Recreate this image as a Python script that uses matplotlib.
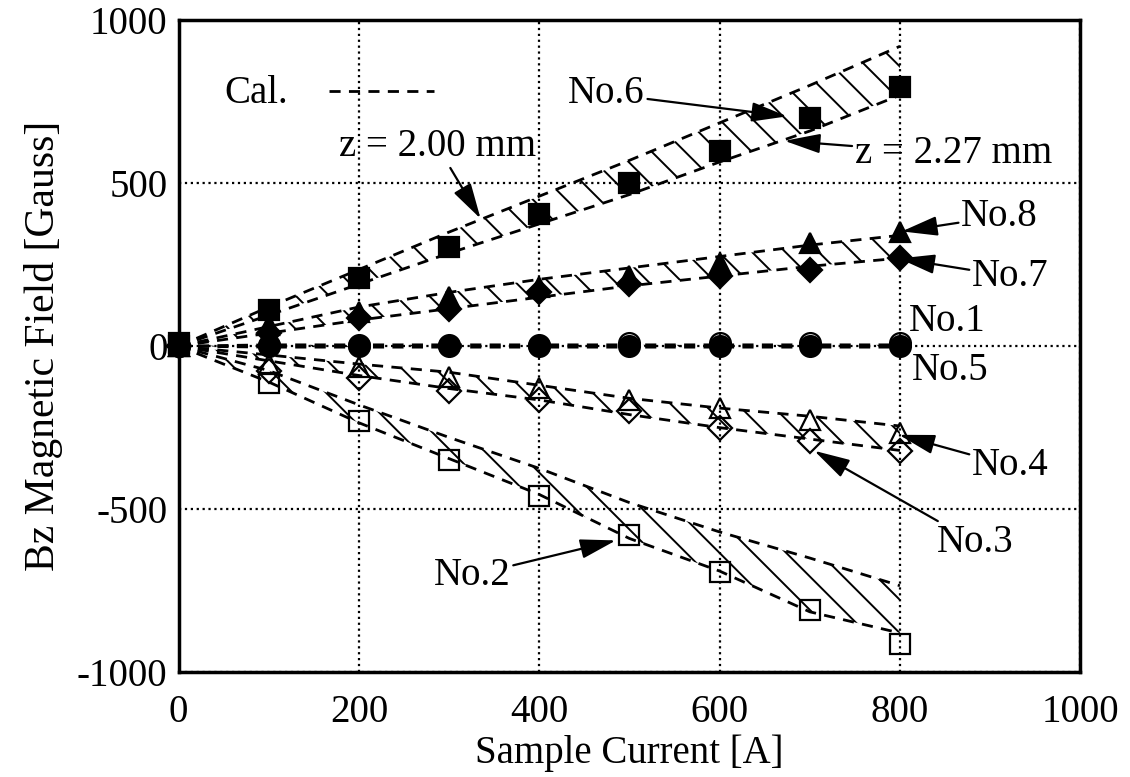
import numpy as np
import matplotlib
matplotlib.use("Agg")
import matplotlib.pyplot as plt

plt.rcParams['font.family'] = ['Liberation Serif', 'DejaVu Serif']
plt.rcParams['hatch.linewidth'] = 1.4
plt.rcParams['axes.unicode_minus'] = False

# --- Data ---
current = [0, 100, 200, 300, 400, 500, 600, 700, 800]

# measured
no6 = [10, 110, 210, 305, 405, 500, 600, 700, 795]
no8 = [0, 65, 105, 150, 180, 215, 255, 315, 350]
no7 = [0, 40, 85, 115, 165, 190, 215, 235, 270]
no1 = [0, 5, 5, 5, 5, 10, 10, 10, 10]
no5 = [0, 0, 0, 0, 0, 0, 0, 0, 0]
no4 = [0, -55, -65, -95, -128, -165, -190, -226, -266]
no3 = [0, -75, -98, -138, -165, -199, -251, -291, -321]
no2 = [0, -113, -230, -348, -459, -578, -694, -810, -914]

# calculated bands (z = 2.00 mm / z = 2.27 mm)
cal6_a = [0, 120, 235, 350, 460, 570, 685, 800, 920]
cal6_b = [0, 95, 190, 285, 375, 465, 565, 660, 770]
cal78_a = [0, 60, 120, 165, 205, 240, 275, 310, 340]
cal78_b = [0, 40, 80, 115, 150, 185, 215, 245, 270]
cal15_a = [0, 4, 4, 4, 4, 4, 4, 4, 4]
cal15_b = [0, -3, -3, -3, -3, -3, -3, -3, -3]
cal34_a = [0, -27, -55, -80, -120, -160, -190, -215, -245]
cal34_b = [0, -45, -90, -130, -165, -210, -250, -285, -320]
cal2_a = [0, -75, -180, -280, -375, -480, -570, -650, -735]
cal2_b = [0, -110, -235, -345, -455, -590, -690, -815, -880]

fig = plt.figure(figsize=(11.3, 7.77), dpi=100)
ax = fig.add_axes([0.158, 0.135, 0.798, 0.839])

dash = (0, (4, 3))
bands = [(cal6_a, cal6_b), (cal78_a, cal78_b), (cal15_a, cal15_b),
         (cal34_a, cal34_b), (cal2_a, cal2_b)]
for a, b in bands:
    ax.fill_between(current, a, b, facecolor='none', edgecolor='k',
                    linewidth=0, hatch='\\', zorder=2)
    ax.plot(current, a, color='k', lw=2, linestyle=dash, zorder=3)
    ax.plot(current, b, color='k', lw=2, linestyle=dash, zorder=3)

ms = 15
mk = dict(linestyle='none', clip_on=False, zorder=5, markeredgewidth=1.6)
ax.plot(current, no6, marker='s', color='k', markersize=ms, **mk)
ax.plot(current, no8, marker='^', color='k', markersize=ms, **mk)
ax.plot(current, no7, marker='D', color='k', markersize=ms - 3, **mk)
ax.plot(current, no5, marker='o', color='k', markersize=ms, **mk)
ax.plot(current, no1, marker='o', color='k', mfc='none', markersize=ms, **mk)
ax.plot(current, no4, marker='^', color='k', mfc='none', markersize=ms, **mk)
ax.plot(current, no3, marker='D', color='k', mfc='none', markersize=ms - 3, **mk)
ax.plot(current, no2, marker='s', color='k', mfc='none', markersize=ms, **mk)

# legend-like "Cal." entry
fs = 28
ax.text(51, 774, 'Cal.', fontsize=fs, va='center', ha='left')
ax.plot([167, 283], [783, 783], color='k', lw=2, linestyle=dash)

arrow = dict(arrowstyle='-|>,head_length=1.1,head_width=0.3', color='k',
             lw=1.6, shrinkA=0, shrinkB=0, mutation_scale=20)
ax.annotate('No.6', xy=(675, 705), xytext=(432, 774), fontsize=fs,
            va='center', ha='left', arrowprops=arrow)
ax.annotate('z = 2.00 mm', xy=(335, 391), xytext=(178, 612), fontsize=fs,
            va='center', ha='left', arrowprops=arrow)
ax.annotate('z = 2.27 mm', xy=(672, 630), xytext=(750, 590), fontsize=fs,
            va='center', ha='left', arrowprops=arrow)
ax.annotate('No.8', xy=(802, 352), xytext=(868, 398), fontsize=fs,
            va='center', ha='left', arrowprops=arrow)
ax.annotate('No.7', xy=(799, 269), xytext=(880, 214), fontsize=fs,
            va='center', ha='left', arrowprops=arrow)
ax.text(810, 76, 'No.1', fontsize=fs, va='center', ha='left')
ax.text(813, -76, 'No.5', fontsize=fs, va='center', ha='left')
ax.annotate('No.4', xy=(799, -272), xytext=(880, -367), fontsize=fs,
            va='center', ha='left', arrowprops=arrow)
ax.annotate('No.3', xy=(705, -321), xytext=(841, -602), fontsize=fs,
            va='center', ha='left', arrowprops=arrow)
ax.annotate('No.2', xy=(485, -596), xytext=(283, -703), fontsize=fs,
            va='center', ha='left', arrowprops=arrow)

ax.set_xlim(0, 1000)
ax.set_ylim(-1000, 1000)
ax.set_xticks([0, 200, 400, 600, 800, 1000])
ax.set_yticks([-1000, -500, 0, 500, 1000])
ax.tick_params(length=0, labelsize=fs, pad=8)
ax.tick_params(axis='x', pad=16)
ax.grid(True, color='k', linestyle=':', lw=1.6)
for s in ax.spines.values():
    s.set_linewidth(2.5)
ax.set_xlabel('Sample Current [A]', fontsize=fs, labelpad=2)
ax.set_ylabel('Bz Magnetic Field [Gauss]', fontsize=30, labelpad=10)

plt.savefig('out.png', dpi=100)
